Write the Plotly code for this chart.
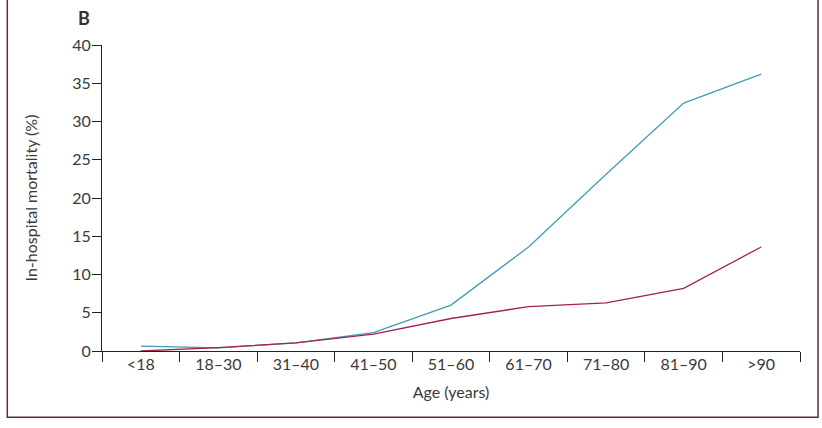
import plotly.graph_objects as go

age_groups = ["<18", "18–30", "31–40", "41–50", "51–60", "61–70", "71–80", "81–90", ">90"]
blue_series = [0.65, 0.42, 1.05, 2.4, 6.0, 13.6, 23.1, 32.4, 36.2]
red_series = [0.0, 0.45, 1.05, 2.2, 4.25, 5.8, 6.3, 8.2, 13.6]
y_ticks = [0, 5, 10, 15, 20, 25, 30, 35, 40]

FONT = "Lato"
TXT = "#3a3a3a"

fig = go.Figure()
fig.add_trace(go.Scatter(x=age_groups, y=blue_series, mode="lines",
                         line=dict(color="#3f9db5", width=1.3), showlegend=False))
fig.add_trace(go.Scatter(x=age_groups, y=red_series, mode="lines",
                         line=dict(color="#a3234d", width=1.3), showlegend=False))

fig.update_layout(
    width=822, height=428,
    margin=dict(l=102, r=22, t=45, b=77, autoexpand=False),
    paper_bgcolor="white", plot_bgcolor="white",
    font=dict(family=FONT, size=16, color=TXT),
    xaxis=dict(
        type="category", range=[-0.5, 8.5], tickson="boundaries",
        ticks="outside", ticklen=10, tickwidth=1.2, tickcolor="#222",
        showline=True, linecolor="#222", linewidth=1.2,
        showgrid=False, zeroline=False, automargin=False,
        ticklabelstandoff=-1,
        title=dict(text="Age (years)", font=dict(size=16, color=TXT), standoff=14),
        tickfont=dict(size=16, color=TXT),
    ),
    yaxis=dict(
        range=[0, 40], tickvals=y_ticks,
        ticks="outside", ticklen=9, tickwidth=1.2, tickcolor="#222",
        showline=True, linecolor="#222", linewidth=1.2,
        showgrid=False, zeroline=False, automargin=False,
        ticklabelstandoff=-2,
        title=dict(text="In-hospital mortality (%)", font=dict(size=16, color=TXT), standoff=30),
        tickfont=dict(size=16, color=TXT),
    ),
    shapes=[dict(type="rect", xref="paper", yref="paper",
                 x0=(7.3 - 102) / 698, x1=(818 - 102) / 698,
                 y0=(351 - 417.3) / 306, y1=(351 + 20) / 306,
                 line=dict(color="#5e2a4c", width=1.5), fillcolor="rgba(0,0,0,0)", layer="below")],
    annotations=[dict(text="<b>B</b>", xref="paper", yref="paper",
                      x=(84 - 102) / 698, y=(351 - 18) / 306, xanchor="center", yanchor="middle",
                      showarrow=False, font=dict(size=18, color="#333", family=FONT))],
)

fig.write_html("out.html", config={"displayModeBar": False},
               post_script="document.body.style.margin='0';document.body.style.overflow='hidden';")
